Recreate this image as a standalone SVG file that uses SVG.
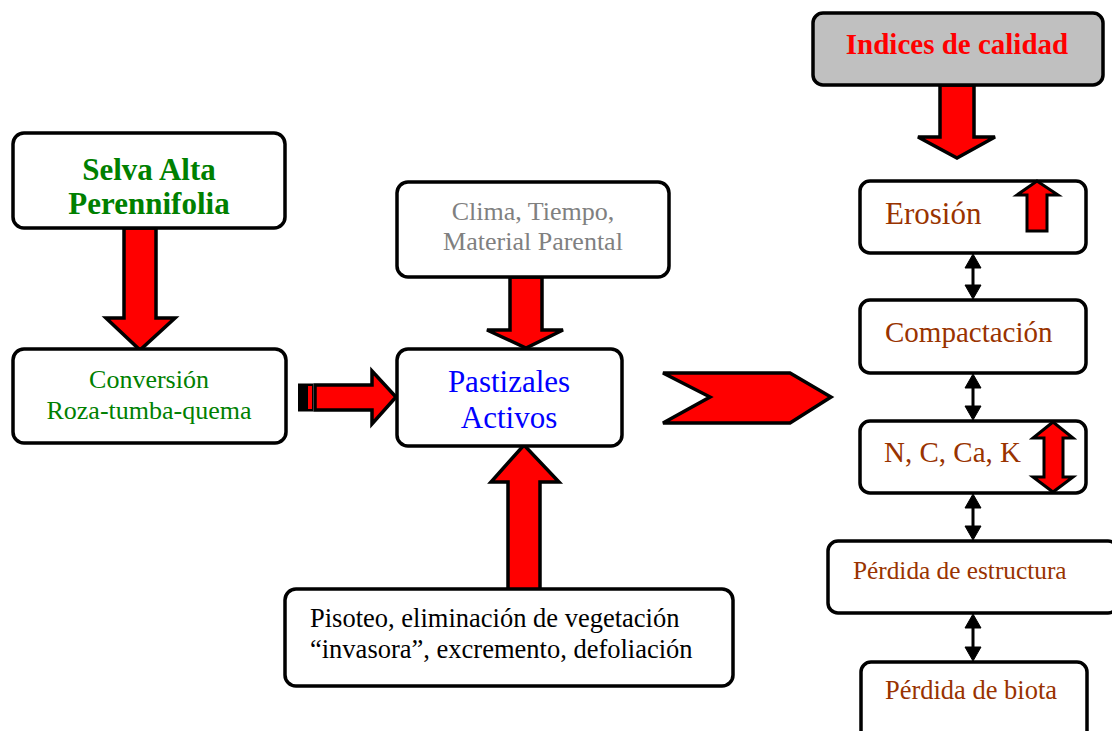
<svg xmlns="http://www.w3.org/2000/svg" width="1112" height="731" viewBox="0 0 1112 731">
<style>
.box{fill:#fff;stroke:#000;stroke-width:3.5}
.big{fill:#f00;stroke:#000;stroke-width:3.5;stroke-linejoin:miter}
.t{font-family:"Liberation Serif","Times New Roman",serif;text-anchor:middle}
.br{fill:#993300}
.dbl{fill:#000;stroke:#000;stroke-width:1}
</style>
<rect width="1112" height="731" fill="#fff"/>
<g id="connectors">
  <polygon class="big" points="124,228 156,228 156,318 175,318 140,350 106,318 124,318"/>
  <polygon class="big" points="510,277 542,277 542,330 563,330 526,348 487,330 510,330"/>
  <polygon class="big" points="508,590 540,590 540,482 559,482 524,445 491,482 508,482"/>
  <polygon class="big" points="940,85 974,85 974,137 995,137 957,158 918,137 940,137"/>
  <rect x="298" y="383.5" width="10" height="28" fill="#000"/>
  <rect x="308" y="383.5" width="5" height="28" fill="#000"/>
  <rect x="308" y="386" width="4" height="23" fill="#f00"/>
  <polygon class="big" points="315,385 372,385 372,371 396,397 372,424 372,410 315,410"/>
  <polygon class="big" points="663,373 790,373 831,397 790,423 663,423 710,397"/>
  <g id="dbl-arrows">
    <rect x="971.5" y="266" width="3" height="22" fill="#000"/>
    <polygon class="dbl" points="973,254 981,268 965,268"/>
    <polygon class="dbl" points="973,299 981,285 965,285"/>
    <rect x="971.5" y="386" width="3" height="22" fill="#000"/>
    <polygon class="dbl" points="973,374 981,388 965,388"/>
    <polygon class="dbl" points="973,420 981,406 965,406"/>
    <rect x="971.5" y="506" width="3" height="22" fill="#000"/>
    <polygon class="dbl" points="973,494 981,508 965,508"/>
    <polygon class="dbl" points="973,540 981,526 965,526"/>
    <rect x="971.5" y="626" width="3" height="23" fill="#000"/>
    <polygon class="dbl" points="973,614 981,628 965,628"/>
    <polygon class="dbl" points="973,661 981,647 965,647"/>
  </g>
</g>
<g id="selva">
  <rect class="box" x="13" y="133" width="272" height="95" rx="11"/>
  <text class="t" x="149" y="180" font-size="31" font-weight="bold" fill="#008000">Selva Alta</text>
  <text class="t" x="149" y="214" font-size="31" font-weight="bold" fill="#008000">Perennifolia</text>
</g>
<g id="conversion">
  <rect class="box" x="13" y="349" width="273" height="94" rx="11"/>
  <text class="t" x="149" y="388" font-size="26" fill="#008000">Conversión</text>
  <text class="t" x="149" y="419" font-size="26" fill="#008000">Roza-tumba-quema</text>
</g>
<g id="clima">
  <rect class="box" x="397" y="182" width="272" height="95" rx="11"/>
  <text class="t" x="533" y="220" font-size="26" fill="#808080">Clima, Tiempo,</text>
  <text class="t" x="533" y="250" font-size="26" fill="#808080">Material Parental</text>
</g>
<g id="pastizales">
  <rect class="box" x="397" y="349" width="225" height="97" rx="11"/>
  <text class="t" x="509" y="392" font-size="31" fill="#0000ff">Pastizales</text>
  <text class="t" x="509" y="428" font-size="31" fill="#0000ff">Activos</text>
</g>
<g id="pisoteo">
  <rect class="box" x="285" y="589" width="448" height="97" rx="11"/>
  <text x="310" y="627" font-family="Liberation Serif, serif" font-size="26.5" fill="#000">Pisoteo, eliminación de vegetación</text>
  <text x="310" y="658" font-family="Liberation Serif, serif" font-size="26.5" fill="#000">“invasora”, excremento, defoliación</text>
</g>
<g id="indices">
  <rect x="813" y="13" width="290" height="72" rx="10" fill="#c0c0c0" stroke="#000" stroke-width="3.5"/>
  <text class="t" x="957" y="54" font-size="29" font-weight="bold" fill="#f00">Indices de calidad</text>
</g>
<g id="erosion">
  <rect class="box" x="860" y="181" width="226" height="72" rx="10"/>
  <text x="885" y="224" font-family="Liberation Serif, serif" font-size="31" class="br">Erosión</text>
  <polygon points="1027,231 1047,231 1047,195 1058,195 1037,181 1017,195 1027,195" fill="#f00" stroke="#000" stroke-width="3"/>
</g>
<g id="compactacion">
  <rect class="box" x="860" y="300" width="226" height="73" rx="10"/>
  <text x="885" y="342" font-family="Liberation Serif, serif" font-size="29" class="br">Compactación</text>
</g>
<g id="nutrientes">
  <rect class="box" x="860" y="421" width="226" height="72" rx="10"/>
  <text x="884" y="462" font-family="Liberation Serif, serif" font-size="29" class="br">N, C, Ca, K</text>
  <polygon points="1053,422 1073,438 1063,438 1063,477 1073,477 1053,492 1033,477 1044,477 1044,438 1033,438" fill="#f00" stroke="#000" stroke-width="3"/>
</g>
<g id="estructura">
  <rect class="box" x="828" y="541" width="290" height="72" rx="10"/>
  <text x="853" y="579" font-family="Liberation Serif, serif" font-size="25.3" class="br">Pérdida de estructura</text>
</g>
<g id="biota">
  <rect class="box" x="861" y="662" width="226" height="80" rx="10"/>
  <text class="t br" x="971" y="699" font-size="26.5">Pérdida de biota</text>
</g>
</svg>
